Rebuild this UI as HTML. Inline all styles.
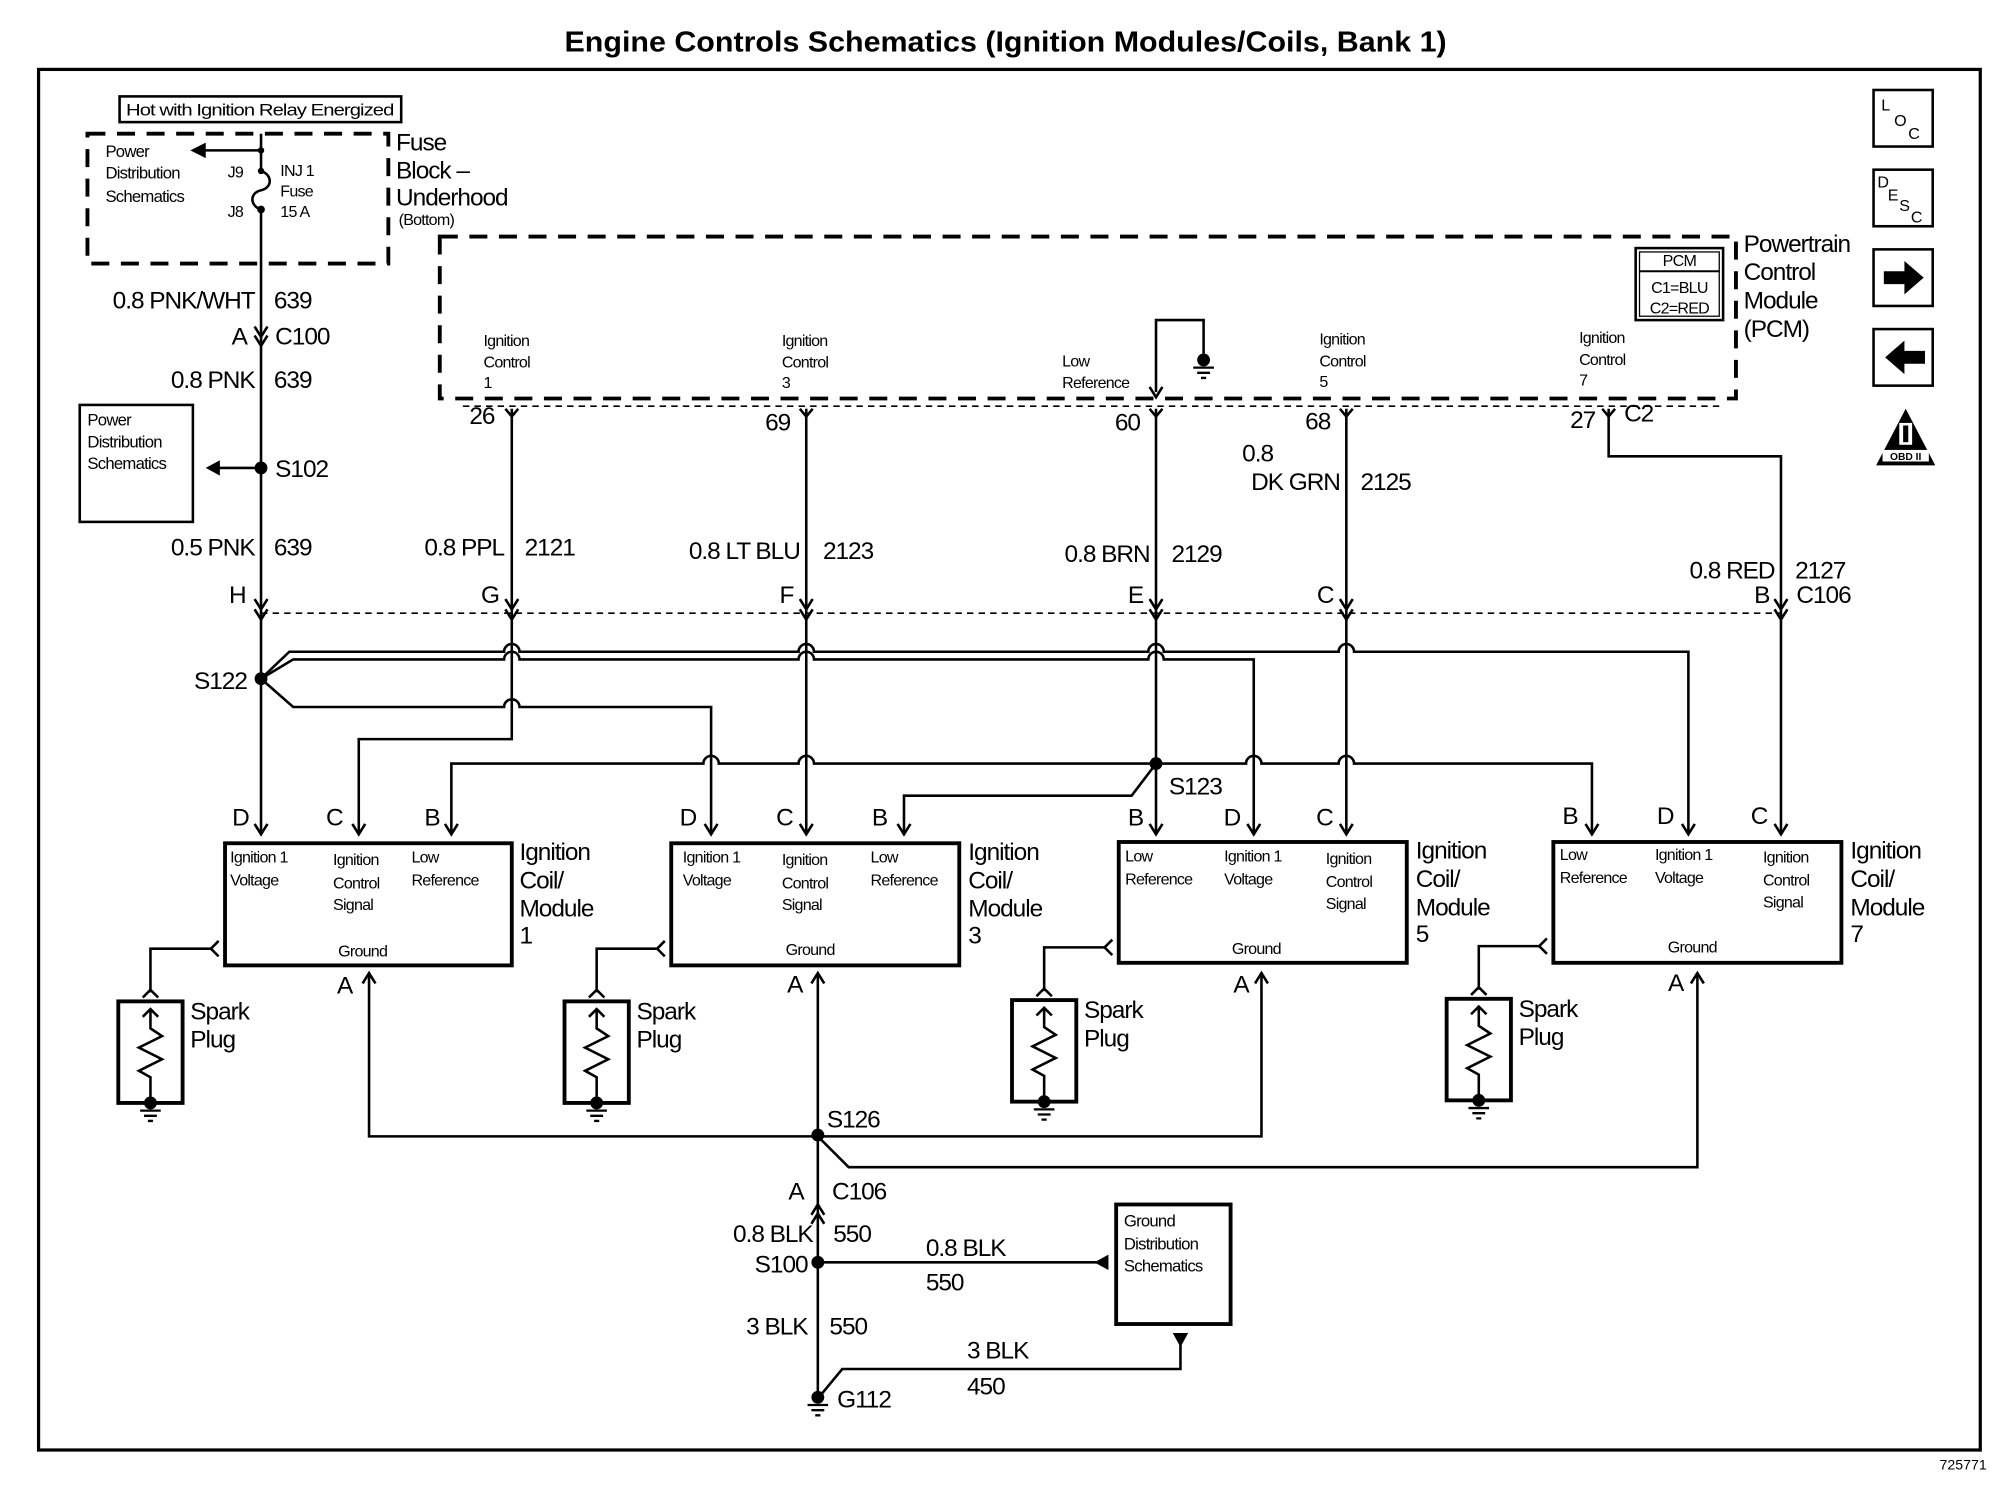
<!DOCTYPE html>
<html><head><meta charset="utf-8"><style>
html,body{margin:0;padding:0;background:#fff;}
svg{display:block;}
text{font-family:"Liberation Sans",sans-serif;fill:#000;}
.b{font-size:19px;letter-spacing:-0.8px;}
.s{font-size:12.5px;letter-spacing:-0.6px;}
.m{font-size:13px;letter-spacing:-0.6px;}
.w{fill:none;stroke:#000;stroke-width:2;}
.t{fill:none;stroke:#000;stroke-width:3;}
.d{fill:none;stroke:#000;stroke-width:3;stroke-dasharray:14 9;}
.dt{fill:none;stroke:#000;stroke-width:1.3;stroke-dasharray:5 4;}
</style></head><body>
<svg width="2006" height="1504" viewBox="0 0 1560 1170" preserveAspectRatio="none" xmlns="http://www.w3.org/2000/svg">
<defs>
<g id="dn"><path d="M-5,-8 L0,0 L5,-8" fill="none" stroke="#000" stroke-width="2"/></g>
<g id="up"><path d="M-5,8 L0,0 L5,8" fill="none" stroke="#000" stroke-width="2"/></g>
<g id="y"><path d="M-5,-6 L0,0 L5,-6" fill="none" stroke="#000" stroke-width="2"/></g>
<g id="gnd"><circle cx="0" cy="0" r="5"/><path d="M-8,6 H8 M-5,10 H5 M-2,14 H2" stroke="#000" stroke-width="1.8"/></g>
</defs>

<text x="782" y="40" text-anchor="middle" style="font-size:22px;font-weight:bold" textLength="686" lengthAdjust="spacingAndGlyphs">Engine Controls Schematics (Ignition Modules/Coils, Bank 1)</text>
<rect x="30" y="54" width="1510" height="1074" fill="none" stroke="#000" stroke-width="2.5"/>
<text x="1545" y="1143" text-anchor="end" style="font-size:11px">725771</text>

<!-- right icons -->
<rect x="1457" y="70" width="46" height="44" class="w"/>
<text x="1463" y="86" class="s">L</text><text x="1473" y="98" class="s">O</text><text x="1484" y="108" class="s">C</text>
<rect x="1457" y="132" width="46" height="44" class="w"/>
<text x="1460" y="146" class="s">D</text><text x="1468" y="156" class="s">E</text><text x="1477" y="164" class="s">S</text><text x="1486" y="173" class="s">C</text>
<rect x="1457" y="194" width="46" height="44" class="w"/>
<path d="M1465,211 H1481 V203 L1496,216 L1481,229 V221 H1465 Z"/>
<rect x="1457" y="256" width="46" height="44" class="w"/>
<path d="M1497,273 H1481 V265 L1466,278 L1481,291 V283 H1497 Z"/>
<path d="M1482,318 L1459,362 L1505,362 Z"/>
<rect x="1477" y="329" width="10" height="17" fill="#fff"/><rect x="1480" y="331" width="4" height="13"/>
<rect x="1464" y="350" width="36" height="9" fill="#fff"/>
<text x="1482" y="358" text-anchor="middle" style="font-size:8px;font-weight:bold">OBD II</text>

<!-- Fuse block -->
<rect x="93" y="75" width="219" height="20" class="w"/>
<text x="98" y="90" class="m" textLength="208" lengthAdjust="spacingAndGlyphs">Hot with Ignition Relay Energized</text>
<rect x="68" y="104" width="234" height="101" class="d"/>
<text x="82" y="122" class="m">Power</text>
<text x="82" y="139" class="m">Distribution</text>
<text x="82" y="157" class="m">Schematics</text>
<path d="M203,104 V132 M203,117 H155" class="w"/>
<path d="M148,117 L160,111 L160,123 Z"/>
<circle cx="203" cy="117" r="2.5"/>
<circle cx="203" cy="133" r="2.5"/><circle cx="203" cy="163" r="3"/>
<path d="M203,133 C212,136 212,146 203,148 C194,150 194,160 203,163" class="w"/>
<text x="177" y="138" class="s">J9</text><text x="177" y="169" class="s">J8</text>
<text x="218" y="137" class="s">INJ 1</text><text x="218" y="153" class="s">Fuse</text><text x="218" y="169" class="s">15 A</text>
<text x="308" y="117" class="b">Fuse</text>
<text x="308" y="139" class="b">Block –</text>
<text x="308" y="160" class="b">Underhood</text>
<text x="310" y="175" class="s">(Bottom)</text>

<!-- main left wire -->
<path d="M203,163 V648" class="w"/>
<use href="#dn" x="203" y="262"/><use href="#dn" x="203" y="269"/>
<text x="198" y="240" text-anchor="end" class="b">0.8 PNK/WHT</text><text x="213" y="240" class="b">639</text>
<text x="192" y="268" text-anchor="end" class="b">A</text><text x="214" y="268" class="b">C100</text>
<text x="198" y="302" text-anchor="end" class="b">0.8 PNK</text><text x="213" y="302" class="b">639</text>
<rect x="62" y="315" width="88" height="91" class="w"/>
<text x="68" y="331" class="m">Power</text><text x="68" y="348" class="m">Distribution</text><text x="68" y="365" class="m">Schematics</text>
<path d="M203,364 H170" class="w"/><path d="M160,364 L171,358 L171,370 Z"/>
<circle cx="203" cy="364" r="5"/>
<text x="214" y="371" class="b">S102</text>
<text x="198" y="432" text-anchor="end" class="b">0.5 PNK</text><text x="213" y="432" class="b">639</text>

<!-- PCM -->
<rect x="342" y="184" width="1008" height="126" class="d"/>
<text x="376" y="269" class="s">Ignition</text><text x="376" y="286" class="s">Control</text><text x="376" y="302" class="s">1</text>
<text x="608" y="269" class="s">Ignition</text><text x="608" y="286" class="s">Control</text><text x="608" y="302" class="s">3</text>
<text x="826" y="285" class="s">Low</text><text x="826" y="302" class="s">Reference</text>
<text x="1026" y="268" class="s">Ignition</text><text x="1026" y="285" class="s">Control</text><text x="1026" y="301" class="s">5</text>
<text x="1228" y="267" class="s">Ignition</text><text x="1228" y="284" class="s">Control</text><text x="1228" y="300" class="s">7</text>
<path d="M899,305 V249 H936 V275" class="w"/>
<use href="#gnd" x="936" y="280"/>
<use href="#dn" x="899" y="309"/>
<rect x="1272" y="193" width="68" height="56" class="w"/><rect x="1275" y="196" width="62" height="50" fill="none" stroke="#000" stroke-width="1"/>
<path d="M1275,211 H1337" stroke="#000" stroke-width="1.5"/>
<text x="1306" y="207" text-anchor="middle" class="s">PCM</text>
<text x="1306" y="228" text-anchor="middle" class="s">C1=BLU</text>
<text x="1306" y="244" text-anchor="middle" class="s">C2=RED</text>
<text x="1356" y="196" class="b">Powertrain</text><text x="1356" y="218" class="b">Control</text>
<text x="1356" y="240" class="b">Module</text><text x="1356" y="262" class="b">(PCM)</text>
<path d="M360,316 H1340" class="dt"/>
<use href="#y" x="398" y="324"/><use href="#y" x="627" y="324"/><use href="#y" x="899" y="324"/><use href="#y" x="1047" y="324"/><use href="#y" x="1251" y="324"/>
<text x="365" y="330" class="b">26</text><text x="595" y="335" class="b">69</text><text x="867" y="335" class="b">60</text><text x="1015" y="334" class="b">68</text><text x="1221" y="333" class="b">27</text><text x="1263" y="328" class="b">C2</text>

<!-- wires -->
<path d="M398,318 V575 H279 V648" class="w"/>
<path d="M627,318 V648" class="w"/>
<path d="M899,318 V648" class="w"/>
<path d="M1047,318 V648" class="w"/>
<path d="M1251,318 V355 H1385 V648" class="w"/>
<text x="392" y="432" text-anchor="end" class="b">0.8 PPL</text><text x="408" y="432" class="b">2121</text>
<text x="622" y="435" text-anchor="end" class="b">0.8 LT BLU</text><text x="640" y="435" class="b">2123</text>
<text x="894" y="437" text-anchor="end" class="b">0.8 BRN</text><text x="911" y="437" class="b">2129</text>
<text x="966" y="359" class="b">0.8</text>
<text x="1042" y="381" text-anchor="end" class="b">DK GRN</text><text x="1058" y="381" class="b">2125</text>
<text x="1380" y="450" text-anchor="end" class="b">0.8 RED</text><text x="1396" y="450" class="b">2127</text>
<text x="1376" y="469" text-anchor="end" class="b">B</text><text x="1397" y="469" class="b">C106</text>
<text x="191" y="469" text-anchor="end" class="b">H</text>
<text x="388" y="469" text-anchor="end" class="b">G</text>
<text x="617" y="469" text-anchor="end" class="b">F</text>
<text x="889" y="469" text-anchor="end" class="b">E</text>
<text x="1037" y="469" text-anchor="end" class="b">C</text>
<path d="M203,477 H1385" class="dt"/>
<g>
<use href="#dn" x="203" y="474"/><use href="#dn" x="203" y="482"/>
<use href="#dn" x="398" y="474"/><use href="#dn" x="398" y="482"/>
<use href="#dn" x="627" y="474"/><use href="#dn" x="627" y="482"/>
<use href="#dn" x="899" y="474"/><use href="#dn" x="899" y="482"/>
<use href="#dn" x="1047" y="474"/><use href="#dn" x="1047" y="482"/>
<use href="#dn" x="1385" y="474"/><use href="#dn" x="1385" y="482"/>
</g>

<!-- S122 splices -->
<path d="M203,528 L225,507 H392 A6,6 0 0 1 404,507 H621 A6,6 0 0 1 633,507 H893 A6,6 0 0 1 905,507 H1041 A6,6 0 0 1 1053,507 H1313 V648" class="w"/>
<path d="M203,528 L228,513 H392 A6,6 0 0 1 404,513 H621 A6,6 0 0 1 633,513 H893 A6,6 0 0 1 905,513 H975 V648" class="w"/>
<path d="M203,528 L228,550 H392 A6,6 0 0 1 404,550 H553 V648" class="w"/>
<circle cx="203" cy="528" r="5"/>
<text x="192" y="536" text-anchor="end" class="b">S122</text>

<!-- S123 -->
<path d="M351,648 V594 H547 A6,6 0 0 1 559,594 H621 A6,6 0 0 1 633,594 H969 A6,6 0 0 1 981,594 H1041 A6,6 0 0 1 1053,594 H1238 V648" class="w"/>
<path d="M899,594 L880,619 H703 V648" class="w"/>
<circle cx="899" cy="594" r="5"/>
<text x="909" y="618" class="b">S123</text>

<!-- arrowheads to modules -->
<g>
<use href="#dn" x="203" y="649"/><use href="#dn" x="279" y="649"/><use href="#dn" x="351" y="649"/>
<use href="#dn" x="553" y="649"/><use href="#dn" x="627" y="649"/><use href="#dn" x="703" y="649"/>
<use href="#dn" x="899" y="649"/><use href="#dn" x="975" y="649"/><use href="#dn" x="1047" y="649"/>
<use href="#dn" x="1238" y="649"/><use href="#dn" x="1313" y="649"/><use href="#dn" x="1385" y="649"/>
</g>
<text x="187" y="642" text-anchor="middle" class="b">D</text><text x="260" y="642" text-anchor="middle" class="b">C</text><text x="336" y="642" text-anchor="middle" class="b">B</text>
<text x="535" y="642" text-anchor="middle" class="b">D</text><text x="610" y="642" text-anchor="middle" class="b">C</text><text x="684" y="642" text-anchor="middle" class="b">B</text>
<text x="883" y="642" text-anchor="middle" class="b">B</text><text x="958" y="642" text-anchor="middle" class="b">D</text><text x="1030" y="642" text-anchor="middle" class="b">C</text>
<text x="1221" y="641" text-anchor="middle" class="b">B</text><text x="1295" y="641" text-anchor="middle" class="b">D</text><text x="1368" y="641" text-anchor="middle" class="b">C</text>

<!-- Module 1 -->
<rect x="175" y="656" width="223" height="95" class="t"/>
<text x="179" y="671" class="s">Ignition 1</text><text x="179" y="689" class="s">Voltage</text>
<text x="259" y="673" class="s">Ignition</text><text x="259" y="691" class="s">Control</text><text x="259" y="708" class="s">Signal</text>
<text x="320" y="671" class="s">Low</text><text x="320" y="689" class="s">Reference</text>
<text x="263" y="744" class="s">Ground</text>
<text x="404" y="669" class="b">Ignition</text><text x="404" y="691" class="b">Coil/</text><text x="404" y="713" class="b">Module</text><text x="404" y="734" class="b">1</text>
<!-- Module 3 -->
<rect x="522" y="656" width="224" height="95" class="t"/>
<text x="531" y="671" class="s">Ignition 1</text><text x="531" y="689" class="s">Voltage</text>
<text x="608" y="673" class="s">Ignition</text><text x="608" y="691" class="s">Control</text><text x="608" y="708" class="s">Signal</text>
<text x="677" y="671" class="s">Low</text><text x="677" y="689" class="s">Reference</text>
<text x="611" y="743" class="s">Ground</text>
<text x="753" y="669" class="b">Ignition</text><text x="753" y="691" class="b">Coil/</text><text x="753" y="713" class="b">Module</text><text x="753" y="734" class="b">3</text>
<!-- Module 5 -->
<rect x="870" y="655" width="224" height="94" class="t"/>
<text x="875" y="670" class="s">Low</text><text x="875" y="688" class="s">Reference</text>
<text x="952" y="670" class="s">Ignition 1</text><text x="952" y="688" class="s">Voltage</text>
<text x="1031" y="672" class="s">Ignition</text><text x="1031" y="690" class="s">Control</text><text x="1031" y="707" class="s">Signal</text>
<text x="958" y="742" class="s">Ground</text>
<text x="1101" y="668" class="b">Ignition</text><text x="1101" y="690" class="b">Coil/</text><text x="1101" y="712" class="b">Module</text><text x="1101" y="733" class="b">5</text>
<!-- Module 7 -->
<rect x="1208" y="655" width="224" height="94" class="t"/>
<text x="1213" y="669" class="s">Low</text><text x="1213" y="687" class="s">Reference</text>
<text x="1287" y="669" class="s">Ignition 1</text><text x="1287" y="687" class="s">Voltage</text>
<text x="1371" y="671" class="s">Ignition</text><text x="1371" y="689" class="s">Control</text><text x="1371" y="706" class="s">Signal</text>
<text x="1297" y="741" class="s">Ground</text>
<text x="1439" y="668" class="b">Ignition</text><text x="1439" y="690" class="b">Coil/</text><text x="1439" y="712" class="b">Module</text><text x="1439" y="733" class="b">7</text>

<!-- spark plugs -->
<g id="sp1">
<path d="M165,738 H117 V772" class="w"/>
<path d="M170,732 L164,738 L170,744" class="w"/>
<path d="M111,776 L117,770 L123,776" class="w"/>
<rect x="92" y="779" width="50" height="79" class="t"/>
<path d="M117,785 V800 L126,806 L108,815 L126,824 L108,833 L117,838 V858" class="w"/>
<path d="M111,791 L117,785 L123,791" class="w"/>
<use href="#gnd" x="117" y="858"/>
<text x="148" y="793" class="b">Spark</text><text x="148" y="815" class="b">Plug</text>
</g>
<use href="#sp1" x="347" y="0"/>
<use href="#sp1" x="695" y="-1"/>
<use href="#sp1" x="1033" y="-2"/>

<!-- ground bus -->
<path d="M287,758 V884 H981 V758" class="w"/>
<path d="M636,758 V1090" class="w"/>
<path d="M636,884 L660,908 H1320 V758" class="w"/>
<use href="#up" x="287" y="757"/><use href="#up" x="636" y="757"/><use href="#up" x="981" y="757"/><use href="#up" x="1320" y="757"/>
<text x="274" y="773" text-anchor="end" class="b">A</text>
<text x="624" y="772" text-anchor="end" class="b">A</text>
<text x="971" y="772" text-anchor="end" class="b">A</text>
<text x="1309" y="771" text-anchor="end" class="b">A</text>
<circle cx="636" cy="883" r="5"/>
<text x="643" y="877" class="b">S126</text>
<use href="#up" x="636" y="937"/><use href="#up" x="636" y="944"/>
<text x="625" y="933" text-anchor="end" class="b">A</text><text x="647" y="933" class="b">C106</text>
<text x="632" y="966" text-anchor="end" class="b">0.8 BLK</text><text x="648" y="966" class="b">550</text>
<circle cx="636" cy="982" r="5"/>
<text x="628" y="990" text-anchor="end" class="b">S100</text>
<path d="M636,982 H855" class="w"/><path d="M851,982 L862,976 L862,988 Z"/>
<text x="720" y="977" class="b">0.8 BLK</text><text x="720" y="1004" class="b">550</text>
<rect x="868" y="937" width="89" height="93" class="t"/>
<text x="874" y="954" class="m">Ground</text><text x="874" y="972" class="m">Distribution</text><text x="874" y="989" class="m">Schematics</text>
<text x="628" y="1038" text-anchor="end" class="b">3 BLK</text><text x="645" y="1038" class="b">550</text>
<path d="M636,1088 L655,1065 H918 V1045" class="w"/>
<path d="M912,1037 L924,1037 L918,1048 Z"/>
<text x="752" y="1057" class="b">3 BLK</text><text x="752" y="1085" class="b">450</text>
<use href="#gnd" x="636" y="1087"/>
<text x="651" y="1095" class="b">G112</text>
</svg>
</body></html>
